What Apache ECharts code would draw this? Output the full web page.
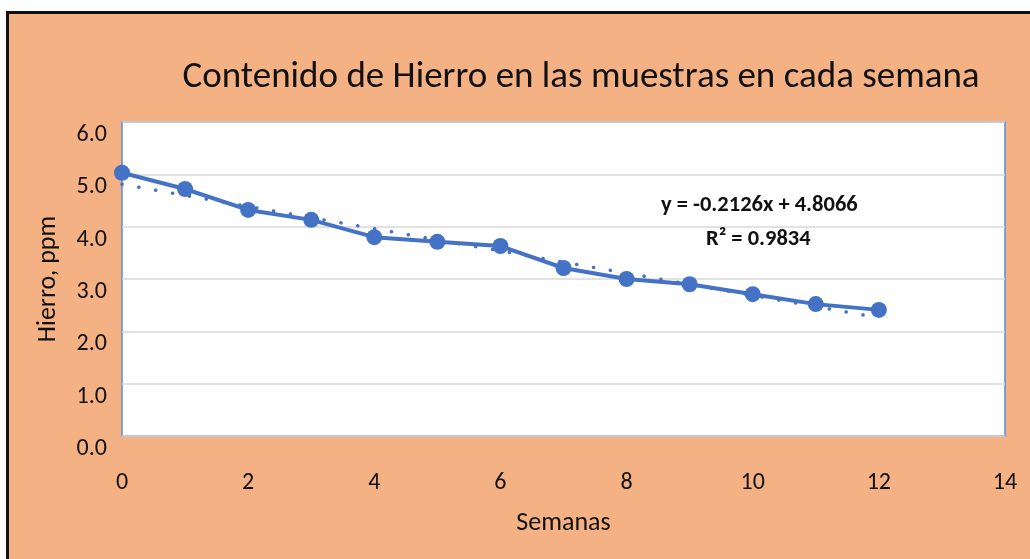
<!DOCTYPE html>
<html>
<head>
    <meta charset="utf-8">
    <title>Hierro</title>
    <script src="https://cdn.jsdelivr.net/npm/echarts@6/dist/echarts.min.js"></script>
    <style>
        body { margin: 0; background: #fff; }
        #frame { position: absolute; left: 6px; top: 11px; width: 1030px; height: 560px;
                 border-left: 3px solid #111; border-top: 3px solid #111; background: #F4B183; }
        #main { position: absolute; left: 0; top: 0; width: 1030px; height: 559px; }
    </style>
</head>
<body>
    <div id="frame"></div>
    <div id="main"></div>
    <script type="text/javascript">
        // datos
        var semanas = [0, 1, 2, 3, 4, 5, 6, 7, 8, 9, 10, 11, 12];
        var hierro = [5.03, 4.72, 4.32, 4.13, 3.80, 3.71, 3.63, 3.21, 3.00, 2.90, 2.71, 2.52, 2.41];
        // linea de tendencia (extremos)
        var tendX = [0, 12];
        var tendY = [4.81, 2.26];
        var ecuacion = 'y = -0.2126x + 4.8066';
        var r2 = 'R² = 0.9834';

        var fuente = "Carlito, 'Liberation Sans Narrow', 'Liberation Sans', sans-serif";
        var azul = '#4472C4';

        var myChart = echarts.init(document.getElementById('main'));

        option = {
            backgroundColor: 'transparent',
            textStyle: { fontFamily: fuente },
            title: {
                text: 'Contenido de Hierro en las muestras en cada semana',
                left: 576,
                textAlign: 'center',
                top: 54,
                textStyle: { fontSize: 37, fontWeight: 'normal', color: '#111', fontFamily: fuente }
            },
            grid: {
                left: 122, top: 122, right: 25, bottom: 123,
                show: true, backgroundColor: '#fff', borderColor: '#5B8BD5', borderWidth: 1.5
            },
            xAxis: {
                type: 'value', min: 0, max: 14, interval: 2,
                name: 'Semanas', nameLocation: 'middle', nameGap: 74,
                nameTextStyle: { fontSize: 26, color: '#111', fontFamily: fuente },
                axisLine: { show: false }, axisTick: { show: false },
                splitLine: { show: false },
                axisLabel: { fontSize: 24, color: '#111', margin: 35, fontFamily: fuente }
            },
            yAxis: {
                type: 'value', min: 0, max: 6, interval: 1,
                name: 'Hierro, ppm', nameLocation: 'middle', nameGap: 61,
                nameTextStyle: { fontSize: 26, color: '#111', fontFamily: fuente },
                axisLine: { show: false }, axisTick: { show: false },
                splitLine: { lineStyle: { color: '#d9d9d9', width: 1.5 } },
                axisLabel: {
                    fontSize: 24, color: '#111', margin: 15, fontFamily: fuente,
                    verticalAlign: 'top', lineHeight: 26,
                    formatter: function (v) { return v.toFixed(1); }
                }
            },
            series: [
                {
                    name: 'tendencia', type: 'line',
                    data: tendX.map(function (x, i) { return [x, tendY[i]]; }),
                    symbol: 'none', silent: true,
                    lineStyle: { color: azul, width: 3.5, type: [0.1, 17], cap: 'round' },
                    z: 1
                },
                {
                    name: 'Hierro', type: 'line',
                    data: semanas.map(function (x, i) { return [x, hierro[i]]; }),
                    symbol: 'circle', symbolSize: 16,
                    itemStyle: { color: azul },
                    lineStyle: { color: azul, width: 4 },
                    z: 2
                }
            ],
            graphic: [
                {
                    type: 'text', left: 661, top: 194, z: 100,
                    style: { text: ecuacion, fontSize: 22.5, fontWeight: 'bold', fill: '#111', fontFamily: fuente }
                },
                {
                    type: 'text', left: 706, top: 228, z: 100,
                    style: { text: r2, fontSize: 22.5, fontWeight: 'bold', fill: '#111', fontFamily: fuente }
                }
            ]
        };

        myChart.setOption(option);
    </script>
</body>
</html>
